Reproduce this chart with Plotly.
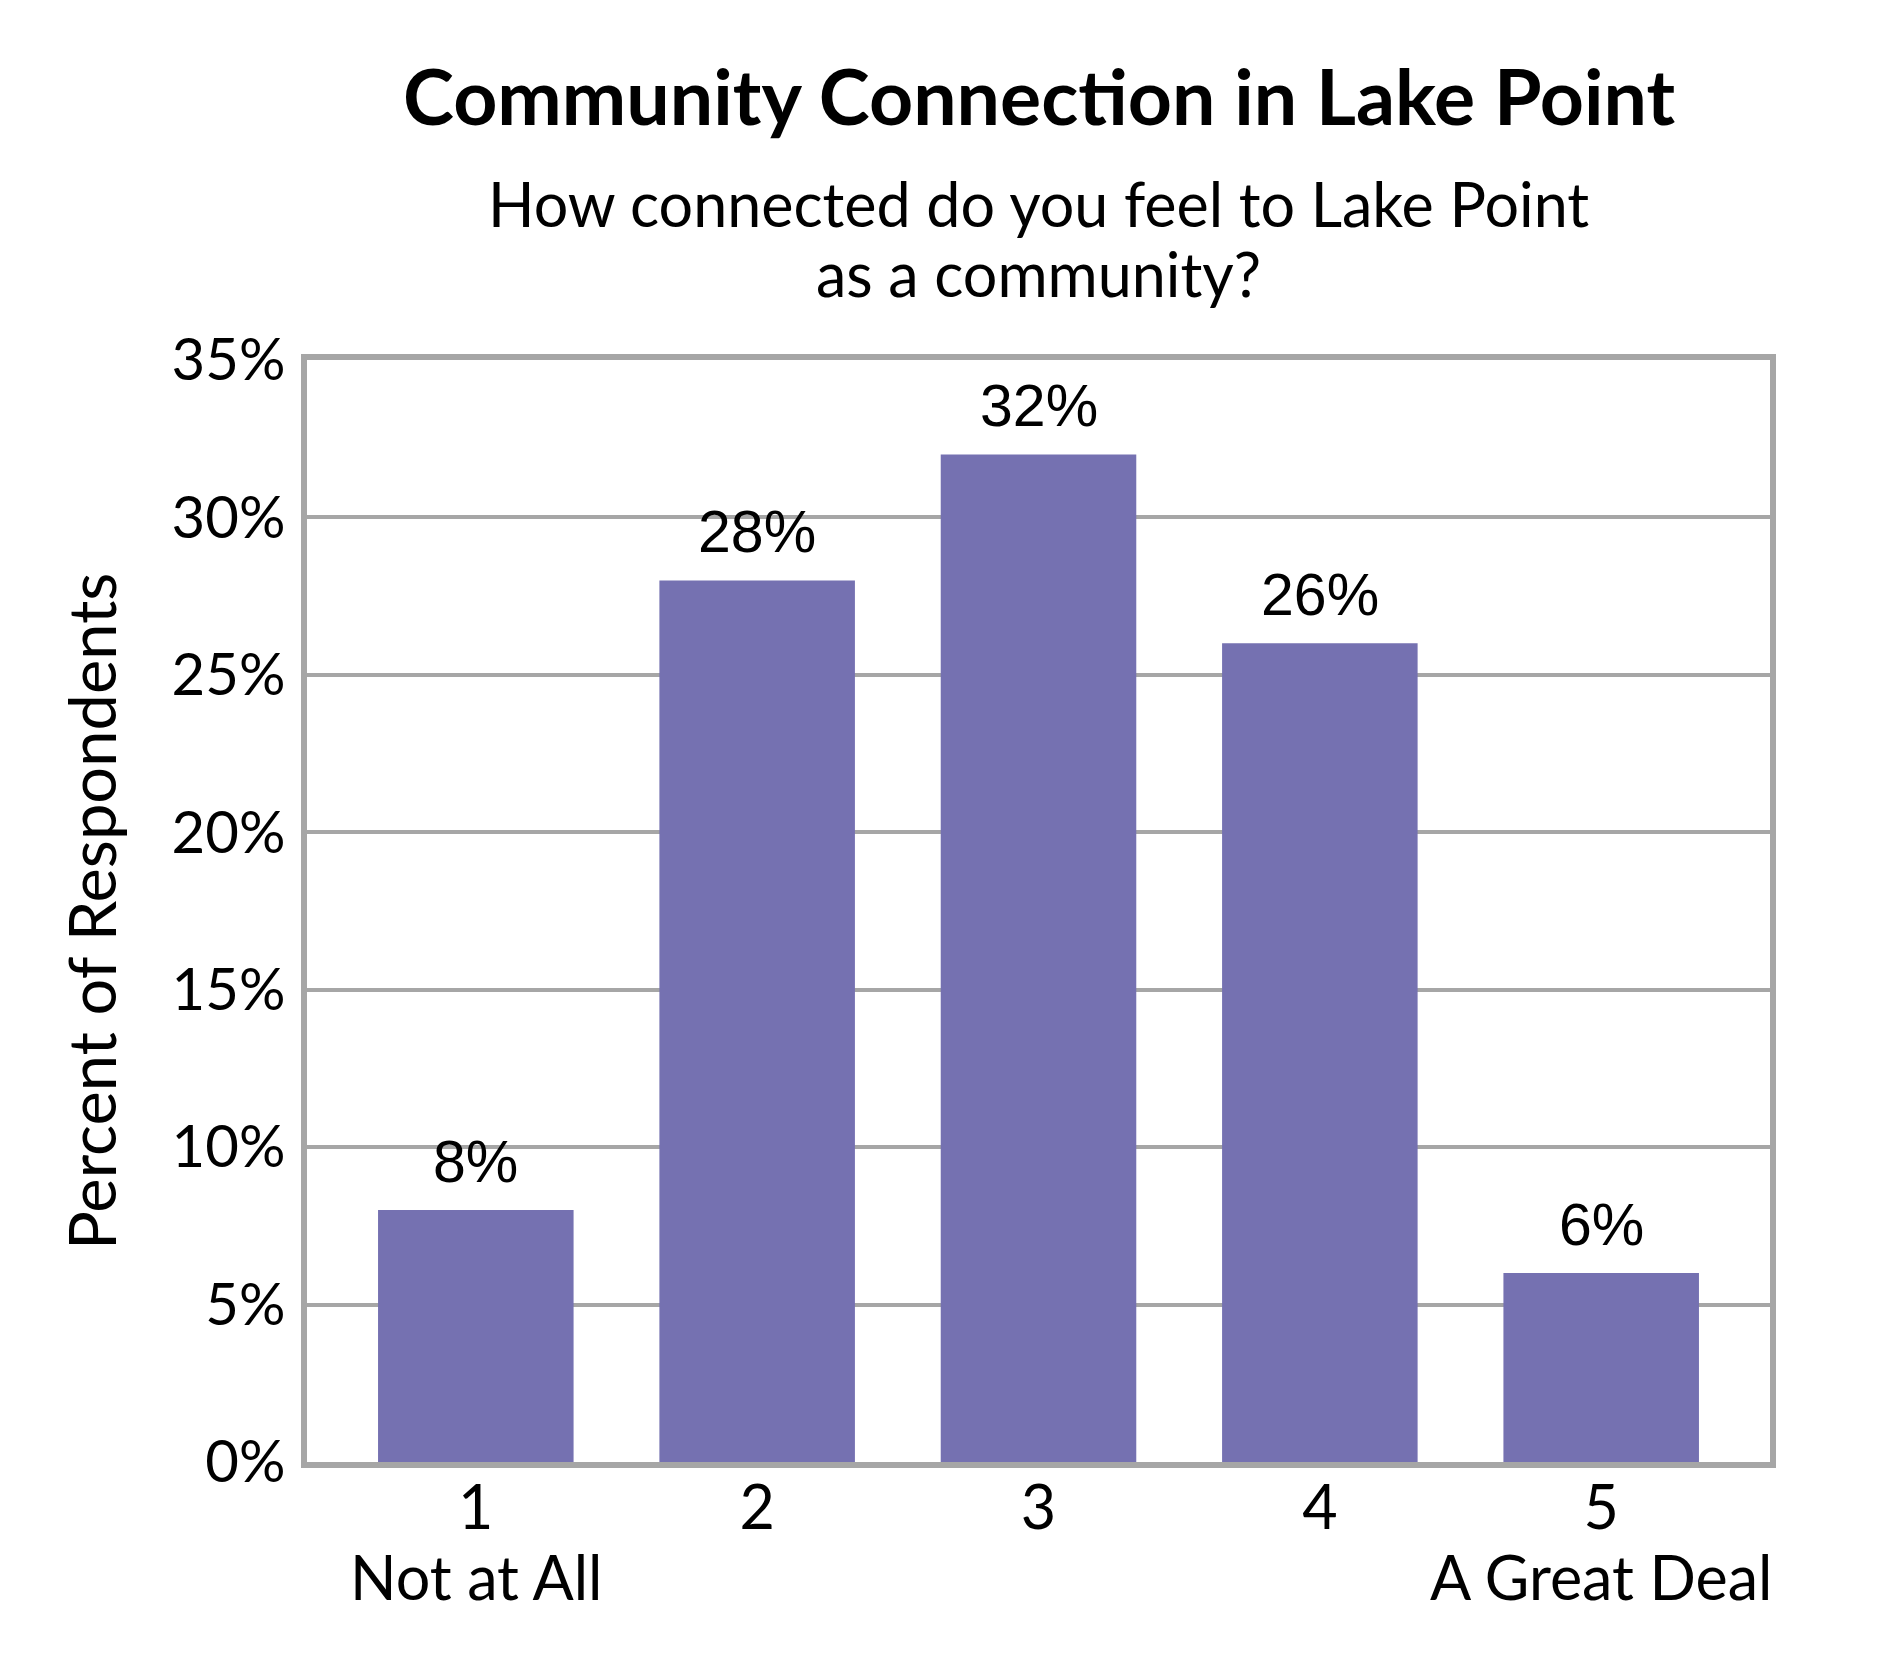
import plotly.graph_objects as go

categories = [1, 2, 3, 4, 5]
tick_labels = ["1", "2", "3", "4", "5"]
scale_labels = ["Not at All", "", "", "", "A Great Deal"]
values = [8, 28, 32, 26, 6]
value_labels = ["8%", "28%", "32%", "26%", "6%"]
y_ticks = [0, 5, 10, 15, 20, 25, 30, 35]
y_tick_labels = ["0%", "5%", "10%", "15%", "20%", "25%", "30%", "35%"]
title_text = "Community Connection in Lake Point"
subtitle_lines = ["How connected do you feel to Lake Point", "as a community?"]
y_title = "Percent of Respondents"

BAR = "#7571B1"
GRID = "#A6A6A6"
FONT = "Lato"

fig = go.Figure()
fig.add_trace(go.Bar(
    x=categories, y=values, width=0.695,
    marker=dict(color=BAR, line=dict(width=0)),
    hoverinfo="skip",
))

L, R, T, B = 299, 128, 352, 226
W, H = 1890, 1680
pw, ph = W - L - R, H - T - B


def py(pix):
    return (H - B - pix) / ph


def px(pix):
    return (pix - L) / pw


annotations = []
for c, v, t in zip(categories, values, value_labels):
    annotations.append(dict(
        x=c, y=v, xref="x", yref="y", text=t, showarrow=False,
        xanchor="center", yanchor="bottom", yshift=13,
        font=dict(family="Liberation Sans, Arial", size=59, color="#000000"),
    ))

for c, t in zip(categories, scale_labels):
    if t:
        annotations.append(dict(
            x=c, xref="x", y=py(1568), yref="paper", text=t, showarrow=False,
            xanchor="center", yanchor="middle",
            font=dict(family=FONT, size=61, color="#000000"),
        ))

annotations.append(dict(
    text="<b>" + title_text + "</b>", x=0.5, xref="paper", y=py(87), yref="paper",
    showarrow=False, xanchor="center", yanchor="middle",
    font=dict(family=FONT, size=77, color="#000000")))

for line, ypix in zip(subtitle_lines, [196, 266]):
    annotations.append(dict(
        text=line, x=0.5, xref="paper", y=py(ypix), yref="paper",
        showarrow=False, xanchor="center", yanchor="middle",
        font=dict(family=FONT, size=61, color="#000000")))

annotations.append(dict(
    text=y_title, textangle=-90, x=px(83), xref="paper", y=py(904), yref="paper",
    showarrow=False, xanchor="center", yanchor="middle",
    font=dict(family=FONT, size=65, color="#000000")))

fig.update_layout(
    width=W, height=H,
    margin=dict(l=L, r=R, t=T, b=B, pad=0),
    paper_bgcolor="white", plot_bgcolor="white",
    showlegend=False,
    annotations=annotations,
    font=dict(family=FONT, size=58, color="#000000"),
)
fig.update_xaxes(
    range=[0.4, 5.6], tickmode="array", tickvals=categories, ticktext=tick_labels,
    showline=True, mirror=True, linecolor=GRID, linewidth=6,
    showgrid=False, zeroline=False, ticks="", ticklabelstandoff=-12,
    tickfont=dict(family=FONT, size=61, color="#000000"),
)
fig.update_yaxes(
    range=[0, 35], tickmode="array", tickvals=y_ticks, ticktext=y_tick_labels,
    showline=True, mirror=True, linecolor=GRID, linewidth=6,
    showgrid=True, gridcolor=GRID, gridwidth=4, zeroline=False,
    ticks="", ticklabelstandoff=4,
    tickfont=dict(family=FONT, size=58, color="#000000"),
)

fig.write_html("out.html")
